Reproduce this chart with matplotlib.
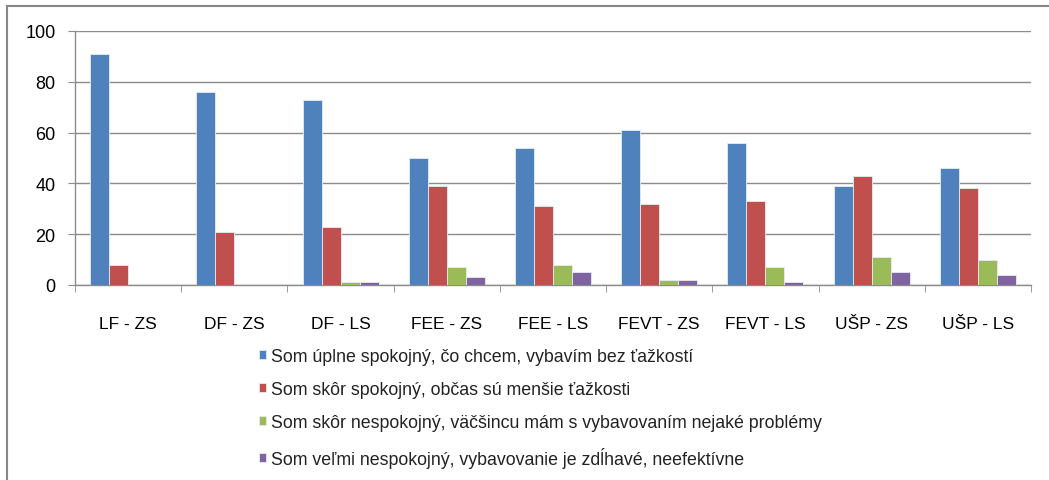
import numpy as np
import matplotlib.pyplot as plt
from matplotlib.patches import Rectangle

plt.rcParams['font.family'] = ['Liberation Sans', 'DejaVu Sans']

categories = ['LF - ZS', 'DF - ZS', 'DF - LS', 'FEE - ZS', 'FEE - LS',
              'FEVT - ZS', 'FEVT - LS', 'UŠP - ZS', 'UŠP - LS']
uplne_spokojny = [91, 76, 73, 50, 54, 61, 56, 39, 46]
skor_spokojny = [8, 21, 23, 39, 31, 32, 33, 43, 38]
skor_nespokojny = [0, 0, 1, 7, 8, 2, 7, 11, 10]
velmi_nespokojny = [0, 0, 1, 3, 5, 2, 1, 5, 4]

labels = ['Som úplne spokojný, čo chcem, vybavím bez ťažkostí',
          'Som skôr spokojný, občas sú menšie ťažkosti',
          'Som skôr nespokojný, väčšincu mám s vybavovaním nejaké problémy',
          'Som veľmi nespokojný, vybavovanie je zdĺhavé, neefektívne']
colors = ['#4F81BD', '#C0504D', '#9BBB59', '#8064A2']
series = [uplne_spokojny, skor_spokojny, skor_nespokojny, velmi_nespokojny]

fig = plt.figure(figsize=(10.49, 4.81), dpi=100)
# outer chart border (cropped on right and bottom)
fig.patches.append(Rectangle((7 / 1049, -0.1), 1.2, 1 - 7 / 481 + 0.1,
                             transform=fig.transFigure, fill=False,
                             edgecolor='#868686', linewidth=1.5))

ax = fig.add_axes([75 / 1049, 1 - 286 / 481, 956 / 1049, 254 / 481])

x = np.arange(len(categories))
w = 0.179
handles = []
for i, (vals, c) in enumerate(zip(series, colors)):
    b = ax.bar(x + (i - 1.5) * w, vals, width=w, color=c,
               edgecolor='#E6ECF5', linewidth=0.6, zorder=3)
    handles.append(b)

ax.set_xlim(-0.5, len(categories) - 0.5)
ax.set_ylim(0, 100)
ax.set_yticks(range(0, 101, 20))
ax.yaxis.grid(True, color='#8C8C8C', linewidth=1.0)
ax.set_axisbelow(True)

ax.set_xticks(x)
ax.set_xticklabels(categories, fontsize=12.5)
ax.set_xticks(np.arange(-0.5, len(categories), 1), minor=True)
ax.tick_params(axis='x', which='major', length=0, pad=22)
ax.tick_params(axis='x', which='minor', length=5, color='#8C8C8C')
ax.tick_params(axis='y', length=5, color='#8C8C8C', labelsize=13, pad=9)

for s in ['top', 'right']:
    ax.spines[s].set_visible(False)
for s in ['left', 'bottom']:
    ax.spines[s].set_color('#8C8C8C')
    ax.spines[s].set_linewidth(1.0)

fig.legend(handles, labels, loc='upper left',
           bbox_to_anchor=(250 / 1049, 1 - 340 / 481), frameon=False,
           fontsize=12.8, handlelength=0.42, handleheight=0.42,
           handletextpad=0.25, labelspacing=0.9, borderpad=0,
           labelcolor='#222222')

fig.savefig('out.png', dpi=100)
